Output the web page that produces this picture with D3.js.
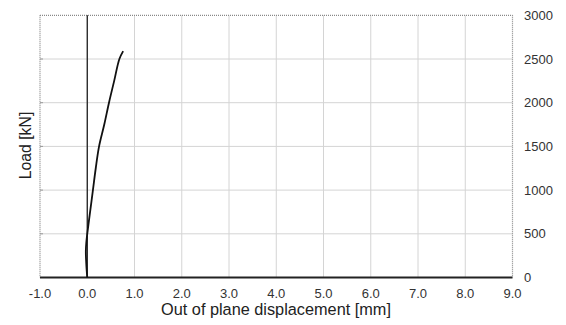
<!DOCTYPE html>
<html>
<head>
<meta charset="utf-8">
<script src="https://cdn.jsdelivr.net/npm/d3@7"></script>
<style>
  body { margin: 0; background: #fff; }
  text { font-family: "Liberation Sans", Arial, sans-serif; }
</style>
</head>
<body>
<svg id="chart"></svg>
<script>
const width = 566;
const height = 325;

// Load vs out of plane displacement
const loadKN = [0, 150, 300, 400, 500, 750, 1000, 1250, 1500, 1750, 2000, 2250, 2500, 2590];
const dispMM = [0, -0.02, -0.03, -0.02, 0, 0.06, 0.12, 0.18, 0.25, 0.36, 0.46, 0.57, 0.68, 0.76];
const xTicks = [-1, 0, 1, 2, 3, 4, 5, 6, 7, 8, 9];
const yTicks = [0, 500, 1000, 1500, 2000, 2500, 3000];

const svg = d3.select("#chart").attr("width", width).attr("height", height);

const x = d3.scaleLinear().domain([-1, 9]).range([40, 512.5]);
const y = d3.scaleLinear().domain([0, 3000]).range([277.5, 15.3]);

// grid
svg.append("g")
  .selectAll("line")
  .data(xTicks.slice(1, -1))
  .enter()
  .append("line")
  .attr("x1", (d) => x(d)).attr("x2", (d) => x(d))
  .attr("y1", y(3000)).attr("y2", y(0))
  .style("stroke", "#d4d4d4")
  .style("stroke-width", 1);

svg.append("g")
  .selectAll("line")
  .data(yTicks.slice(1, -1))
  .enter()
  .append("line")
  .attr("x1", x(-1)).attr("x2", x(9))
  .attr("y1", (d) => y(d)).attr("y2", (d) => y(d))
  .style("stroke", "#d4d4d4")
  .style("stroke-width", 1);

// dotted frame (top, left, right)
const frame = [
  [x(-1), y(3000), x(9), y(3000)],
  [x(-1), y(3000), x(-1), y(0)],
  [x(9), y(3000), x(9), y(0)],
];
svg.append("g")
  .selectAll("line")
  .data(frame)
  .enter()
  .append("line")
  .attr("x1", (d) => d[0]).attr("y1", (d) => d[1])
  .attr("x2", (d) => d[2]).attr("y2", (d) => d[3])
  .style("stroke", "#888")
  .style("stroke-width", 1.2)
  .style("stroke-dasharray", "1,1");

// small tick marks on left edge and zero line
svg.append("g")
  .selectAll("line")
  .data(yTicks.slice(1, -1))
  .enter()
  .append("line")
  .attr("x1", x(-1)).attr("x2", x(-1) + 3)
  .attr("y1", (d) => y(d)).attr("y2", (d) => y(d))
  .style("stroke", "#999");

// zero line
svg.append("line")
  .attr("x1", x(0)).attr("x2", x(0))
  .attr("y1", y(3000)).attr("y2", y(0))
  .style("stroke", "#111")
  .style("stroke-width", 1.2);

// bottom axis line
svg.append("line")
  .attr("x1", x(-1)).attr("x2", x(9))
  .attr("y1", y(0)).attr("y2", y(0))
  .style("stroke", "#222")
  .style("stroke-width", 1.8);

// x tick labels
svg.append("g")
  .selectAll("text")
  .data(xTicks)
  .enter()
  .append("text")
  .attr("x", (d) => x(d))
  .attr("y", 297.5)
  .style("font-size", "13px")
  .style("fill", "#333")
  .style("text-anchor", "middle")
  .text((d) => d.toFixed(1));

// y tick labels (right)
svg.append("g")
  .selectAll("text")
  .data(yTicks)
  .enter()
  .append("text")
  .attr("x", 524)
  .attr("y", (d) => y(d))
  .attr("dy", "0.35em")
  .style("font-size", "13px")
  .style("fill", "#333")
  .text((d) => d);

// axis titles
svg.append("text")
  .attr("x", 276)
  .attr("y", 315)
  .style("font-size", "16.3px")
  .style("fill", "#222")
  .style("text-anchor", "middle")
  .text("Out of plane displacement [mm]");

svg.append("text")
  .attr("transform", `translate(30.5, 145.5) rotate(-90)`)
  .style("font-size", "15.8px")
  .style("fill", "#222")
  .style("text-anchor", "middle")
  .text("Load [kN]");

// curve
const line = d3.line()
  .x((d) => x(d[0]))
  .y((d) => y(d[1]))
  .curve(d3.curveCatmullRom);

svg.append("path")
  .datum(dispMM.map((d, i) => [d, loadKN[i]]))
  .attr("d", line)
  .style("fill", "none")
  .style("stroke", "#111")
  .style("stroke-width", 1.8);
</script>
</body>
</html>
